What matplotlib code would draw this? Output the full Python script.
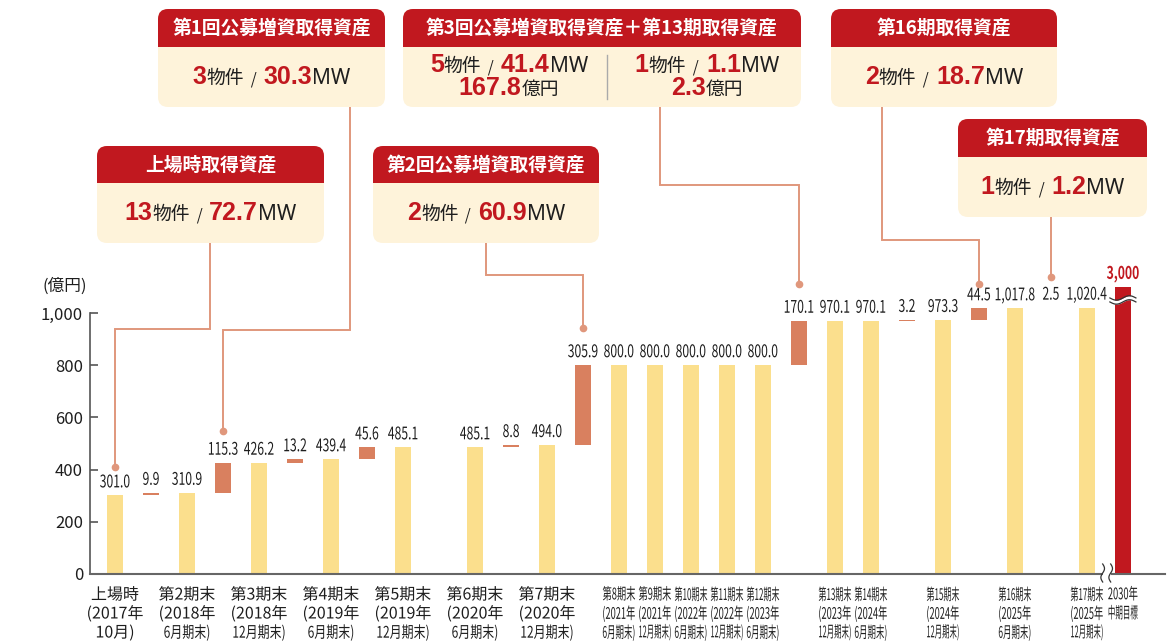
import matplotlib
matplotlib.use("Agg")
import matplotlib.pyplot as plt
import matplotlib.patheffects as pe
import matplotlib.transforms as mtransforms
import matplotlib.text as mtext
from matplotlib.patches import FancyBboxPatch, Rectangle
from matplotlib.offsetbox import TextArea, HPacker, AnnotationBbox
import numpy as np

plt.rcParams["font.family"] = ["Noto Sans CJK JP", "DejaVu Sans"]

# ---------------- data ----------------
period_names = ["上場時", "第2期末", "第3期末", "第4期末", "第5期末", "第6期末", "第7期末",
                "第8期末", "第9期末", "第10期末", "第11期末", "第12期末", "第13期末",
                "第14期末", "第15期末", "第16期末", "第17期末"]
period_years = ["(2017年", "(2018年", "(2018年", "(2019年", "(2019年", "(2020年", "(2020年",
                "(2021年", "(2021年", "(2022年", "(2022年", "(2023年", "(2023年",
                "(2024年", "(2024年", "(2025年", "(2025年"]
period_ends = ["10月)", "6月期末)", "12月期末)", "6月期末)", "12月期末)", "6月期末)", "12月期末)",
               "6月期末)", "12月期末)", "6月期末)", "12月期末)", "6月期末)", "12月期末)",
               "6月期末)", "12月期末)", "6月期末)", "12月期末)"]
period_totals = [301.0, 310.9, 426.2, 439.4, 485.1, 485.1, 494.0, 800.0, 800.0, 800.0,
                 800.0, 800.0, 970.1, 970.1, 973.3, 1017.8, 1020.4]
# acquisitions between a period and the next one (None = no separate step shown)
increments = [9.9, 115.3, 13.2, 45.6, 0.0, 8.8, 305.9, None, None, None, None, 170.1,
              None, 3.2, 44.5, 2.5, None]
target_lines = ["2030年", "中期目標"]
target_value = 3000
y_ticks = [0, 200, 400, 600, 800, 1000]
unit_label = "(億円)"

callout_titles = ["上場時取得資産", "第1回公募増資取得資産", "第2回公募増資取得資産",
                  "第3回公募増資取得資産＋第13期取得資産", "第16期取得資産", "第17期取得資産"]
callout_counts = [[13], [3], [2], [5, 1], [2], [1]]
callout_mw = [[72.7], [30.3], [60.9], [41.4, 1.1], [18.7], [1.2]]
callout_oku = [None, None, None, [167.8, 2.3], None, None]

# ---------------- style ----------------
YELLOW = "#FBDF8D"
ORANGE = "#D9805F"
RED = "#C1181F"
CREAM = "#FEF3DA"
LEADER = "#E0977C"
DARK = "#1E1E1E"
AXIS = "#555555"
W, H = 1176, 644


class VStretch(pe.AbstractPathEffect):
    """Stretch a text vertically about its anchor point (used for condensed type)."""
    def __init__(self, text):
        super().__init__()
        self.text = text

    def draw_path(self, renderer, gc, tpath, affine, rgbFace=None):
        sy = self.text.sy
        cy = self.text.get_transform().transform(self.text.get_unitless_position())[1]
        t = affine + mtransforms.Affine2D().translate(0, -cy).scale(1, sy).translate(0, cy)
        renderer.draw_path(gc, tpath, t, rgbFace)


class CondText(mtext.Text):
    """Condensed text: set at a smaller size and stretched back to full height."""
    def __init__(self, *args, base=12.0, sx=1.0, **kwargs):
        super().__init__(*args, **kwargs)
        self.base = base
        self.condense(sx)
        self.set_path_effects([VStretch(self)])

    def condense(self, sx):
        self.set_fontsize(self.base * sx)
        self.sy = 1.0 / sx


def ctext(axes, x, y, s, base, sx=1.0, **kw):
    kw.setdefault("clip_on", False)
    t = CondText(x, y, s, base=base, sx=sx, **kw)
    axes.add_artist(t)
    return t


fig = plt.figure(figsize=(W / 100, H / 100), dpi=100)
ax = fig.add_axes([90 / W, 70 / H, (1165 - 90) / W, 574 / H])
ax.set_xlim(-0.694, 29.17)
ax.set_ylim(0, 574 / 0.261)
ov = fig.add_axes([0, 0, 1, 1], zorder=5)
ov.set_xlim(0, W)
ov.set_ylim(H, 0)
ov.axis("off")
ov.patch.set_alpha(0)

# ---------------- positions ----------------
pos = 0
total_pos, inc_pos, inc_bottom, inc_val = [], [], [], []
for i, tot in enumerate(period_totals):
    total_pos.append(pos)
    pos += 1
    inc = increments[i]
    if inc is not None:
        if inc > 0:
            inc_pos.append(pos)
            inc_bottom.append(tot)
            inc_val.append(inc)
        pos += 1
target_pos = pos
TARGET_CAP = 1100  # displayed height of the broken target bar

BW = 0.43
ax.bar(total_pos, period_totals, width=BW, color=YELLOW, zorder=2)
ax.bar(inc_pos, inc_val, bottom=inc_bottom, width=BW, color=ORANGE, zorder=2)
ax.bar([target_pos], [TARGET_CAP], width=BW, color=RED, zorder=2)

# value labels
off = mtransforms.ScaledTranslation(0, 5.8 / 72, fig.dpi_scale_trans)
VSX = 0.7
for x, v in zip(total_pos, period_totals):
    ctext(ax, x, v, f"{v:,.1f}", 12.5, VSX, transform=ax.transData + off, ha="center",
          va="baseline", color=DARK, zorder=4)
for x, b, v in zip(inc_pos, inc_bottom, inc_val):
    ctext(ax, x, b + v, f"{v:,.1f}", 12.5, VSX, transform=ax.transData + off, ha="center",
          va="baseline", color=DARK, zorder=4)
ctext(ax, target_pos, TARGET_CAP, f"{target_value:,}", 12.5, VSX, transform=ax.transData + off,
      ha="center", va="baseline", color=RED, fontweight="bold", zorder=4)

# axes styling
for s in ["top", "right"]:
    ax.spines[s].set_visible(False)
ax.spines["left"].set_bounds(0, 1000)
ax.spines["left"].set_color(AXIS)
ax.spines["left"].set_linewidth(1.2)
ax.spines["bottom"].set_color("#666666")
ax.spines["bottom"].set_linewidth(1.5)
ax.set_yticks(y_ticks)
ax.set_yticklabels([f"{v:,}" for v in y_ticks])
ax.tick_params(axis="y", direction="in", length=6, width=1.2, color=AXIS, pad=5,
               labelsize=12, labelcolor=DARK)
ax.set_xticks([])
ax.set_facecolor("none")

ov.text(65, 286, unit_label, ha="center", va="center", fontsize=12, color=DARK)

# ---------------- x labels (one text per line) ----------------
blend = mtransforms.blended_transform_factory(ax.transData, ov.transData)
line_y = [595, 614, 633]
XL = 11.5
xl_texts = []
for i, x in enumerate(total_pos):
    lines = [period_names[i], period_years[i], period_ends[i]]
    for j, (s, yy) in enumerate(zip(lines, line_y)):
        t = ctext(ax, x, yy, s, XL, transform=blend, ha="center", va="center", color=DARK)
        xl_texts.append((t, i, j))
tg_texts = []
for s, yy in zip(target_lines, line_y):
    tg_texts.append(ctext(ax, target_pos, yy, s, XL, transform=blend, ha="center",
                          va="center", color=DARK))

renderer = fig.canvas.get_renderer()
for t, i, j in xl_texts:
    w = t.get_window_extent(renderer).width
    if i >= 7:
        t.condense(min(1.0, 33 / w))
    elif j == 2 and w > 60:
        t.condense(0.75)
for t in tg_texts:
    w = t.get_window_extent(renderer).width
    t.condense(min(1.0, 30 / w))


# ---------------- helpers for overlay ----------------
def to_ov(x, y):
    return ov.transData.inverted().transform(ax.transData.transform((x, y)))


def rich(x, y, pieces):
    areas = [TextArea(s, textprops=p) for s, p in pieces]
    box = HPacker(children=areas, align="baseline", pad=0, sep=0)
    ab = AnnotationBbox(box, (x, y), xycoords=ov.transData, frameon=False,
                        box_alignment=(0.5, 0.5), pad=0, zorder=7)
    ov.add_artist(ab)


NUM = dict(color=RED, fontsize=18, fontweight="bold", family=["Liberation Sans", "DejaVu Sans"])
UNIT = dict(color=DARK, fontsize=13.5, family=["Noto Sans CJK JP"])
SLASH = dict(color=DARK, fontsize=11, family=["Noto Sans CJK JP"])
MWP = dict(color=DARK, fontsize=15, family=["Noto Sans", "DejaVu Sans"])


def box(x0, x1, y0, yh, y1, title):
    ov.add_patch(FancyBboxPatch((x0, y0), x1 - x0, y1 - y0,
                                boxstyle="round,pad=0,rounding_size=10", fc=CREAM, ec="none", zorder=6))
    ov.add_patch(FancyBboxPatch((x0, y0), x1 - x0, yh - y0,
                                boxstyle="round,pad=0,rounding_size=10", fc=RED, ec="none", zorder=6))
    ov.add_patch(Rectangle((x0, (y0 + yh) / 2), x1 - x0, (yh - y0) / 2, fc=RED, ec="none", zorder=6))
    ov.text((x0 + x1) / 2, (y0 + yh) / 2 + 0.5, title, ha="center", va="center", color="white",
            fontsize=13.5, fontweight="bold", zorder=7)


def line_pieces(n, mw):
    return [(f"{n}", NUM), ("物件", UNIT), ("  /  ", SLASH), (f"{mw:.1f}", NUM), ("MW", MWP)]


# box geometry (pixels): x0, x1, y0, header bottom, y1
geoms = [(97, 324, 146, 183, 243), (158, 385, 9, 47, 107), (373, 599, 146, 183, 243),
         (403, 801, 9, 47, 107), (831, 1057, 9, 47, 107), (958, 1147, 119, 157, 217)]
# leader routes: start x on box, elbow y, dot y
leaders = [(210, 329, 467), (350, 330, 431), (486, 275, 328), (660, 185, 284),
           (882, 240, 284), (1053, None, 277)]
step_x = [total_pos[0], inc_pos[1], inc_pos[5], inc_pos[6], inc_pos[8], inc_pos[9]]

for k, (g, title) in enumerate(zip(geoms, callout_titles)):
    x0, x1, y0, yh, y1 = g
    box(x0, x1, y0, yh, y1, title)
    cy = (yh + y1) / 2
    if callout_oku[k] is None:
        rich((x0 + x1) / 2, cy, line_pieces(callout_counts[k][0], callout_mw[k][0]))
    else:
        cols = [509, 707]
        for c, n, mw, ok in zip(cols, callout_counts[k], callout_mw[k], callout_oku[k]):
            rich(c, 65, line_pieces(n, mw))
            rich(c, 88, [(f"{ok:.1f}", NUM), ("億円", UNIT)])
        ov.plot([607, 607], [55, 99], color="#AAAAAA", lw=1, zorder=7)
    sx0, ey, dy = leaders[k]
    bx = to_ov(step_x[k], 0)[0]
    if ey is None:
        xs, ys = [bx, bx], [y1, dy]
    else:
        xs, ys = [sx0, sx0, bx, bx], [y1, ey, ey, dy]
    ov.plot(xs, ys, color=LEADER, lw=1.4, zorder=5, solid_joinstyle="miter")
    ov.plot([bx], [dy], "o", ms=4.5, color=LEADER, zorder=5)

# ---------------- break marks ----------------
# on the target bar
bx, by = to_ov(target_pos, TARGET_CAP - 50)
xs = np.linspace(bx - 13, bx + 13, 60)
wave = 2.2 * np.sin(2 * np.pi * (xs - xs[0]) / 26)
ov.fill_between(xs, by - 2 + wave, by + 2 + wave, color="white", zorder=6, lw=0)
ov.plot(xs, by - 2 + wave, color="#333333", lw=0.9, zorder=6)
ov.plot(xs, by + 2 + wave, color="#333333", lw=0.9, zorder=6)
# on the x axis
ax_x, ax_y = to_ov((total_pos[-1] + target_pos) / 2 + 0.05, 0)
ov.add_patch(Rectangle((ax_x - 4, ax_y - 3), 8, 6, fc="white", ec="none", zorder=6))
yy = np.linspace(ax_y - 10, ax_y + 8, 40)
for dx in (-4, 4):
    ov.plot(ax_x + dx + 1.8 * np.sin(2 * np.pi * (yy - yy[0]) / 18), yy, color="#333333",
            lw=0.9, zorder=6)

fig.savefig("out.png", dpi=100)
